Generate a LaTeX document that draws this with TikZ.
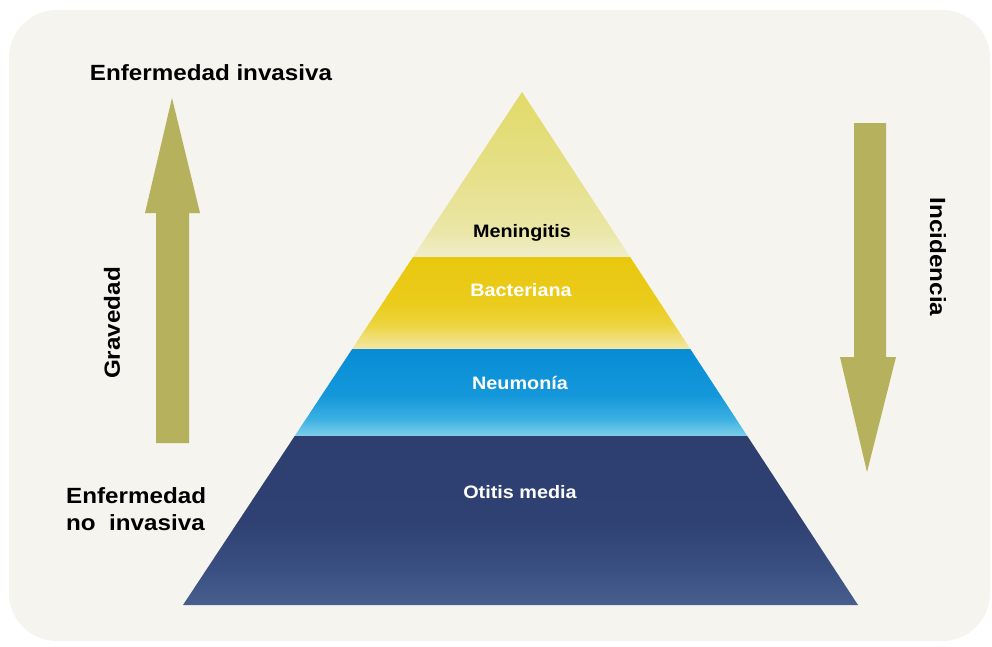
\documentclass[tikz,border=0pt]{standalone}
\usepackage{fontspec}
\usepackage{graphicx}
\setmainfont{Liberation Sans}
\newcommand{\wide}[1]{\scalebox{1.1}[1]{#1}}
\definecolor{panel}{HTML}{F5F4EE}
\definecolor{olive}{HTML}{B5B15C}
\definecolor{mA}{HTML}{F0EECB}\definecolor{mB}{HTML}{EAE6A6}
\definecolor{mC}{HTML}{E6E08A}\definecolor{mD}{HTML}{E1DA68}
\definecolor{bA}{HTML}{F3E8A8}\definecolor{bB}{HTML}{EDD440}
\definecolor{bC}{HTML}{EACC1C}\definecolor{bD}{HTML}{E9C70E}
\definecolor{nA}{HTML}{7ECFEA}\definecolor{nB}{HTML}{3AB0E2}
\definecolor{nC}{HTML}{1598DA}\definecolor{nD}{HTML}{078CD5}
\definecolor{oA}{HTML}{475E8F}\definecolor{oB}{HTML}{3A4F81}
\definecolor{oC}{HTML}{2F4173}\definecolor{oD}{HTML}{2D3E6F}
% vertical shadings: the filled path spans 25bp (bottom) to 75bp (top)
\pgfdeclareverticalshading{meningShade}{100bp}{%
  color(0bp)=(mA); color(25bp)=(mA); color(33bp)=(mB);
  color(50bp)=(mC); color(75bp)=(mD); color(100bp)=(mD)}
\pgfdeclareverticalshading{bactShade}{100bp}{%
  color(0bp)=(bA); color(25bp)=(bA); color(38bp)=(bB);
  color(50bp)=(bC); color(75bp)=(bD); color(100bp)=(bD)}
\pgfdeclareverticalshading{neuShade}{100bp}{%
  color(0bp)=(nA); color(25bp)=(nA); color(35bp)=(nB);
  color(48bp)=(nC); color(75bp)=(nD); color(100bp)=(nD)}
\pgfdeclareverticalshading{otiShade}{100bp}{%
  color(0bp)=(oA); color(25bp)=(oA); color(36bp)=(oB);
  color(50bp)=(oC); color(75bp)=(oD); color(100bp)=(oD)}
\tikzset{
  sidelabel/.style={font=\fontsize{22}{26}\selectfont\bfseries, text=black, inner sep=0pt},
  layerlabel/.style={font=\fontsize{18}{21}\selectfont\bfseries, inner sep=0pt},
  bigarrow/.style={fill=olive, draw=none}
}
\begin{document}
\begin{tikzpicture}[x=1pt, y=-1pt]
  \useasboundingbox (0,0) rectangle (992,646);
  \fill[white] (0,0) rectangle (992,646);
  % soft panel behind everything
  \fill[panel] (9,10) [rounded corners=48pt] rectangle (990,641);

  % pyramid layers, top to bottom
  \shade[shading=meningShade]
    (522,92) -- (630.1,257) -- (413.0,257) -- cycle;
  \shade[shading=bactShade]
    (413.0,257) -- (630.1,257) -- (690.3,349) -- (352.2,349) -- cycle;
  \shade[shading=neuShade]
    (352.2,349) -- (690.3,349) -- (747.3,436) -- (294.7,436) -- cycle;
  \shade[shading=otiShade]
    (294.7,436) -- (747.3,436) -- (858,605) -- (183,605) -- cycle;

  % layer labels
  \node[layerlabel, text=black] (mening) at (522,233) {\wide{Meningitis}};
  \node[layerlabel, text=white] (bact)   at (521,290) {\wide{Bacteriana}};
  \node[layerlabel, text=white] (neumo)  at (520,383) {\wide{Neumonía}};
  \node[layerlabel, text=white] (otitis) at (520,492) {\wide{Otitis media}};

  % severity arrow (up)
  \fill[bigarrow] (156,443) -- (156,213) -- (145,213) -- (172,98)
    -- (200,213) -- (189,213) -- (189,443) -- cycle;
  % incidence arrow (down)
  \fill[bigarrow] (854,123) -- (886,123) -- (886,357) -- (896,357)
    -- (867,472) -- (840,357) -- (854,357) -- cycle;

  % side labels
  \node[sidelabel] (invasiva) at (211,73) {\wide{Enfermedad invasiva}};
  \node[sidelabel, anchor=west, align=left] (noinvasiva) at (66,509)
    {\wide{Enfermedad}\\[1pt]\wide{no\ \ invasiva}};
  \node[sidelabel, rotate=90] (gravedad) at (112,323) {\wide{Gravedad}};
  \node[sidelabel, rotate=-90] (incidencia) at (938,257) {\wide{Incidencia}};
\end{tikzpicture}
\end{document}
